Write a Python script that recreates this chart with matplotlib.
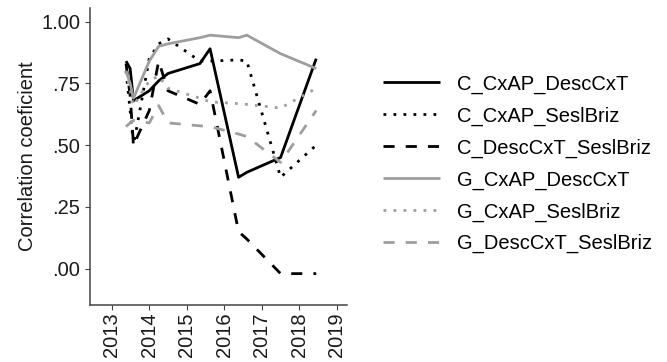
import matplotlib
matplotlib.use("Agg")
import matplotlib.pyplot as plt

plt.rcParams['font.family'] = ['Liberation Sans', 'DejaVu Sans']

# sampling dates (decimal years)
dates = [2013.38, 2013.49, 2013.58, 2014.0, 2014.25, 2014.5,
         2015.35, 2015.62, 2016.38, 2016.6, 2017.5, 2018.45]

c_cxap_desccxt = [0.84, 0.81, 0.68, 0.72, 0.76, 0.79, 0.83, 0.89, 0.37, 0.39, 0.45, 0.85]
c_cxap_seslbriz = [0.80, 0.64, 0.50, 0.85, 0.91, 0.93, 0.84, 0.84, 0.845, 0.84, 0.37, 0.50]
c_desccxt_seslbriz = [0.83, 0.70, 0.50, 0.64, 0.84, 0.72, 0.665, 0.72, 0.15, 0.12, -0.02, -0.02]
g_cxap_desccxt = [0.80, 0.75, 0.69, 0.84, 0.90, 0.91, 0.935, 0.945, 0.935, 0.945, 0.87, 0.81]
g_cxap_seslbriz = [0.80, 0.72, 0.66, 0.76, 0.78, 0.73, 0.69, 0.675, 0.668, 0.665, 0.65, 0.73]
g_desccxt_seslbriz = [0.575, 0.59, 0.60, 0.59, 0.66, 0.59, 0.578, 0.575, 0.545, 0.535, 0.43, 0.64]

series_names = ['C_CxAP_DescCxT', 'C_CxAP_SeslBriz', 'C_DescCxT_SeslBriz',
                'G_CxAP_DescCxT', 'G_CxAP_SeslBriz', 'G_DescCxT_SeslBriz']
series_values = [c_cxap_desccxt, c_cxap_seslbriz, c_desccxt_seslbriz,
                 g_cxap_desccxt, g_cxap_seslbriz, g_desccxt_seslbriz]

year_ticks = [2013, 2014, 2015, 2016, 2017, 2018, 2019]
y_ticks = [0.0, 0.25, 0.5, 0.75, 1.0]
y_ticklabels = ['.00', '.25', '.50', '.75', '1.00']

black = '#000000'
grey = '#9e9e9e'
solid = '-'
dotted = (0, (1, 2.6))
dashed = (0, (4, 4))
styles = [(black, solid), (black, dotted), (black, dashed),
          (grey, solid), (grey, dotted), (grey, dashed)]

fs = 14.5
fig = plt.figure(figsize=(6.67, 3.62), dpi=100)
ax = fig.add_axes([90 / 667, 1 - 305 / 362, 257 / 667, 297 / 362])

for name, vals, (col, ls) in zip(series_names, series_values, styles):
    ax.plot(dates, vals, color=col, linestyle=ls, linewidth=2.0,
            dash_capstyle='butt', solid_capstyle='butt', label=name)

ax.set_xlim(2012.42, 2019.27)
ax.set_ylim(-0.147, 1.055)
ax.set_xticks(year_ticks)
ax.set_xticklabels([str(y) for y in year_ticks], rotation=90)
ax.set_yticks(y_ticks)
ax.set_yticklabels(y_ticklabels)

for side in ['top', 'right']:
    ax.spines[side].set_visible(False)
for side in ['left', 'bottom']:
    ax.spines[side].set_color('#444444')
    ax.spines[side].set_linewidth(1.1)
ax.tick_params(axis='both', length=3.6, width=0.8, color='#444444',
               labelsize=fs, labelcolor='#1a1a1a')
ax.tick_params(axis='y', pad=3.5)
ax.tick_params(axis='x', pad=1.5)

ax.set_ylabel('Correlation coeficient', fontsize=fs, color='#1a1a1a')
ax.yaxis.set_label_coords(-0.205, 0.5)

fig.legend(loc='center left', bbox_to_anchor=(383 / 667, 1 - 164 / 362),
           frameon=False, fontsize=fs, handlelength=2.85, handletextpad=0.8,
           labelspacing=0.63, borderpad=0, borderaxespad=0)

fig.savefig('out.png', dpi=100)
